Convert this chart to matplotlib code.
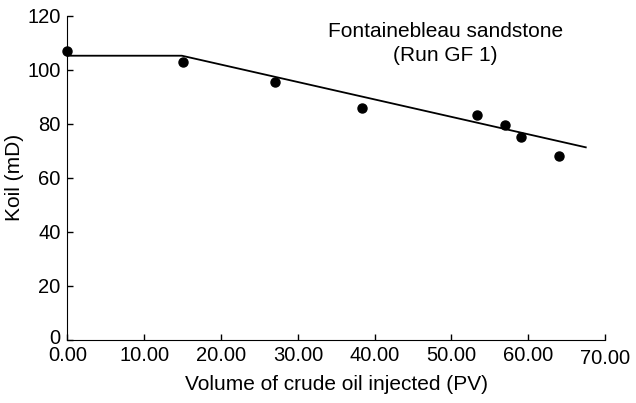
import matplotlib.pyplot as plt
import matplotlib.transforms as mtransforms

plt.rcParams['font.family'] = ['Liberation Sans', 'DejaVu Sans']

# measured points
pv_injected = [0.0, 15.0, 27.0, 38.4, 53.3, 57.0, 59.0, 64.0]
koil = [107.1, 102.8, 95.5, 86.0, 83.4, 79.4, 75.0, 68.2]

# trend line (plateau then linear decline)
trend_x = [0.0, 14.9, 67.5]
trend_y = [105.2, 105.2, 71.3]

xticks = [0, 10, 20, 30, 40, 50, 60, 70]
xtick_labels = ['0.00', '10.00', '20.00', '30.00', '40.00', '50.00', '60.00', '70.00']
yticks = [0, 20, 40, 60, 80, 100, 120]

fig = plt.figure(figsize=(6.36, 4.03), dpi=100)
ax = fig.add_axes([0.1061, 0.1563, 0.8451, 0.8047])

ax.plot(trend_x, trend_y, color='black', lw=1.3, clip_on=False)
ax.plot(pv_injected, koil, 'o', color='black', ms=6.5, clip_on=False)

ax.set_xlim(0, 70)
ax.set_ylim(0, 120)
ax.set_xticks(xticks)
ax.set_xticklabels(xtick_labels)
ax.set_yticks(yticks)

ax.spines['top'].set_visible(False)
ax.spines['right'].set_visible(False)
ax.tick_params(direction='in', length=4, width=1, labelsize=14.5)
ax.tick_params(axis='x', pad=4)
ax.tick_params(axis='y', pad=5)

# last x label sits a bit lower, "0" on y sits a bit higher
lbl = ax.get_xticklabels()[-1]
lbl.set_transform(lbl.get_transform() + mtransforms.ScaledTranslation(0, -3/100, fig.dpi_scale_trans))
lbl0 = ax.get_yticklabels()[0]
lbl0.set_transform(lbl0.get_transform() + mtransforms.ScaledTranslation(0, 4/100, fig.dpi_scale_trans))

ax.set_xlabel('Volume of crude oil injected (PV)', fontsize=15, labelpad=5)
ax.set_ylabel('Koil (mD)', fontsize=15, labelpad=2)

ax.text(49.2, 109.8, 'Fontainebleau sandstone\n(Run GF 1)', ha='center', va='center',
        fontsize=15, linespacing=1.3)

fig.savefig('out.png', dpi=100)
